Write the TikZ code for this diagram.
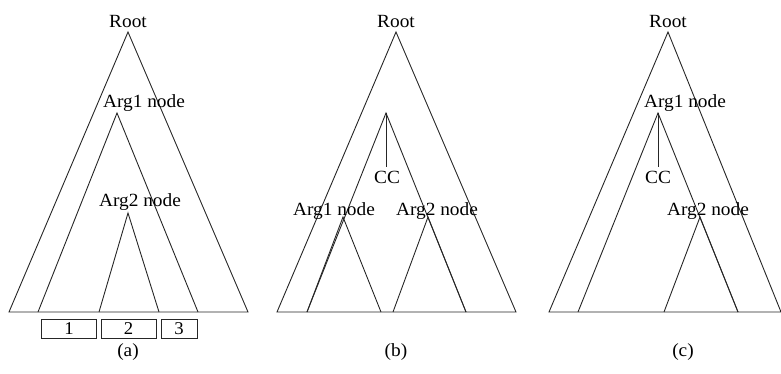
\documentclass[tikz,border=0pt]{standalone}
\usepackage{fontspec}
\setmainfont{Liberation Serif}
\usepackage{graphicx}
\newcommand{\wt}[1]{\scalebox{1.04}[1]{#1}}
\begin{document}
\begin{tikzpicture}[x=1pt,y=-1pt,
  lbl/.style={font=\fontsize{18.6}{21}\selectfont, inner sep=0pt, anchor=base},
  edge/.style={line width=0.9pt, line join=miter, draw=black!85},
  numbox/.style={draw=black!85, line width=0.9pt, minimum height=19pt, inner sep=0pt,
    font=\fontsize{18}{21}\selectfont}]
\useasboundingbox (0,0) rectangle (781,374);
% ---------------- (a) ----------------
\coordinate (aR) at (128,32);
\coordinate (aRl) at (9,312);
\coordinate (aRr) at (248,312);
\coordinate (aA1) at (117,113);
\coordinate (aA1l) at (38,312);
\coordinate (aA1r) at (198,312);
\coordinate (aA2) at (128,213);
\coordinate (aA2l) at (99,312);
\coordinate (aA2r) at (159,312);
\draw[edge] (aRl) -- (aR) -- (aRr) -- cycle;
\draw[edge] (aA1l) -- (aA1) -- (aA1r);
\draw[edge] (aA2l) -- (aA2) -- (aA2r);
\node[lbl] (aroot) at (128,28) {\wt{Root}};
\node[lbl] (aarg1) at (144,108) {\wt{Arg1 node}};
\node[lbl] (aarg2) at (140,207) {\wt{Arg2 node}};
\node[numbox, minimum width=55pt] (box1) at (69,328.5) {\wt{1}};
\node[numbox, minimum width=55pt] (box2) at (128.5,328.5) {\wt{2}};
\node[numbox, minimum width=36pt] (box3) at (179,328.5) {\wt{3}};
\node[lbl] (capa) at (128,356) {\wt{(a)}};
% ---------------- (b) ----------------
\coordinate (bR) at (396,32);
\coordinate (bRl) at (277,312);
\coordinate (bRr) at (516,312);
\coordinate (bC) at (386,113);
\coordinate (bCl) at (307,312);
\coordinate (bCr) at (466,312);
\coordinate (bCend) at (386,167);
\coordinate (bA1) at (343,217);
\coordinate (bA1r) at (381,312);
\coordinate (bA2) at (428,217);
\coordinate (bA2l) at (393,312);
\draw[edge] (bRl) -- (bR) -- (bRr) -- cycle;
\draw[edge] (bCl) -- (bC) -- (bCr);
\draw[edge] (bC) -- (bCend);
\draw[edge] (bCl) -- (bA1) -- (bA1r);
\draw[edge] (bA2l) -- (bA2) -- (bCr);
\node[lbl] (broot) at (396,28) {\wt{Root}};
\node[lbl] (bcc) at (387,183) {\wt{CC}};
\node[lbl] (barg1) at (334,215) {\wt{Arg1 node}};
\node[lbl] (barg2) at (437,215) {\wt{Arg2 node}};
\node[lbl] (capb) at (396,356) {\wt{(b)}};
% ---------------- (c) ----------------
\coordinate (cR) at (668,32);
\coordinate (cRl) at (549,312);
\coordinate (cRr) at (781,312);
\coordinate (cA1) at (658,113);
\coordinate (cA1l) at (578,312);
\coordinate (cA1r) at (738,312);
\coordinate (cCend) at (658,167);
\coordinate (cA2) at (700,217);
\coordinate (cA2l) at (664,312);
\draw[edge] (cRl) -- (cR) -- (cRr) -- cycle;
\draw[edge] (cA1l) -- (cA1) -- (cA1r);
\draw[edge] (cA1) -- (cCend);
\draw[edge] (cA2l) -- (cA2) -- (cA1r);
\node[lbl] (croot) at (668,28) {\wt{Root}};
\node[lbl] (carg1) at (685,108) {\wt{Arg1 node}};
\node[lbl] (ccc) at (658,183) {\wt{CC}};
\node[lbl] (carg2) at (708,215) {\wt{Arg2 node}};
\node[lbl] (capc) at (683,356) {\wt{(c)}};
\end{tikzpicture}
\end{document}
